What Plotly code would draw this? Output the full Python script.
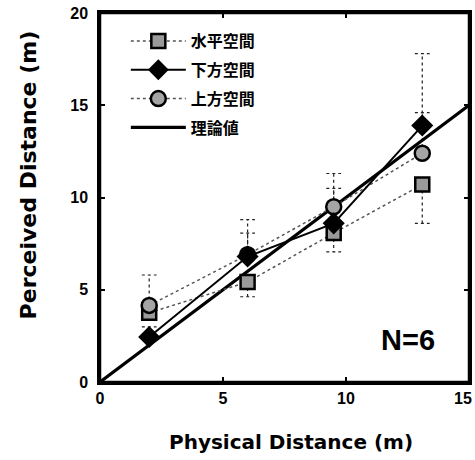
import plotly.graph_objects as go

# ---- data ----
x_phys = [2, 6, 9.5, 13.1]
names = ["水平空間", "下方空間", "上方空間", "理論値"]
horiz_y = [3.75, 5.42, 8.07, 10.7]
horiz_err_minus = [0.3, 0.8, 1.02, 2.1]
lower_y = [2.44, 6.8, 8.6, 13.9]
lower_err_plus = [0.55, 2.0, 1.9, 3.9]
upper_y = [4.15, 6.9, 9.5, 12.4]
upper_err_plus = [1.65, 1.17, 1.8, 2.2]
theory_x = [0, 15]
theory_y = [0, 15]
x_tickvals = [0, 5, 10, 15]
x_ticktext = ["0", "5", "10", ""]   # last label drawn as annotation (kept inside page)
x_last_label = "15"
y_tickvals = [0, 5, 10, 15, 20]

CAP = 0.3
FONT = "Liberation Sans, Arial, sans-serif"
TFONT = "DejaVu Sans, sans-serif"
CJK = "Noto Sans CJK JP"


def err_segments(xs, ys, errs, sign):
    ex, ey = [], []
    for x, y, e in zip(xs, ys, errs):
        yt = y + sign * e
        ex += [x, x, None, x - CAP, x + CAP, None]
        ey += [y, yt, None, yt, yt, None]
    return ex, ey


fig = go.Figure()

# error bars (dotted)
for ys, errs, sign in [(horiz_y, horiz_err_minus, -1),
                       (lower_y, lower_err_plus, 1),
                       (upper_y, upper_err_plus, 1)]:
    ex, ey = err_segments(x_phys, ys, errs, sign)
    fig.add_trace(go.Scatter(x=ex, y=ey, mode="lines", showlegend=False,
                             line=dict(color="#222", width=1.2, dash="dot"),
                             hoverinfo="skip"))

# theory line
fig.add_trace(go.Scatter(x=theory_x, y=theory_y, mode="lines", name=names[3],
                         legendgroup="d", legendrank=4,
                         line=dict(color="black", width=3.2)))

fig.add_trace(go.Scatter(x=x_phys, y=horiz_y, mode="lines+markers", name=names[0],
                         legendgroup="a", legendrank=1,
                         line=dict(color="#555", width=1.5, dash="dot"),
                         marker=dict(symbol="square", size=14, color="#9a9a9a",
                                     line=dict(color="black", width=2.5))))
fig.add_trace(go.Scatter(x=x_phys, y=upper_y, mode="lines+markers", name=names[2],
                         legendgroup="c", legendrank=3,
                         line=dict(color="#555", width=1.5, dash="dot"),
                         marker=dict(symbol="circle", size=15, color="#a5a5a5",
                                     line=dict(color="black", width=2.5))))
fig.add_trace(go.Scatter(x=x_phys, y=lower_y, mode="lines+markers", name=names[1],
                         legendgroup="b", legendrank=2,
                         line=dict(color="black", width=2),
                         marker=dict(symbol="diamond", size=17, color="black")))

fig.add_annotation(x=12.5, y=2.3, text="<b>N=6</b>", showarrow=False,
                   font=dict(family=FONT, size=29, color="black"))

# last x tick label, nudged left so it stays inside the page
fig.add_annotation(x=x_tickvals[-1], y=0, xref="x", yref="y", text=x_last_label,
                   showarrow=False, xanchor="center", yanchor="top",
                   xshift=-6, yshift=-6,
                   font=dict(family=FONT, size=16, color="black", weight="bold"))

# axis titles
fig.add_annotation(x=0.518, y=-0.163, xref="paper", yref="paper",
                   text="Physical Distance (m)", showarrow=False,
                   xanchor="center", yanchor="middle",
                   font=dict(family=TFONT, size=20, color="black", weight="bold"))
fig.add_annotation(x=-0.195, y=0.56, xref="paper", yref="paper",
                   text="Perceived Distance (m)", showarrow=False, textangle=-90,
                   xanchor="center", yanchor="middle",
                   font=dict(family=TFONT, size=22, color="black", weight="bold"))

# frame around the plot area
fig.add_shape(type="rect", xref="paper", yref="paper", x0=0, y0=0, x1=1, y1=1,
              line=dict(color="black", width=2.5), layer="above")

axis_common = dict(showline=True, linecolor="black", linewidth=2.5, mirror="ticks",
                   ticks="inside", ticklen=5, tickwidth=1.5, tickcolor="black",
                   showgrid=False, zeroline=False, automargin=False,
                   ticklabeloverflow="allow",
                   tickfont=dict(family=FONT, size=16, color="black", weight="bold"))

fig.update_xaxes(range=[0, 15], tickvals=x_tickvals, ticktext=x_ticktext, **axis_common)
fig.update_yaxes(range=[0, 20], tickvals=y_tickvals, ticklabelstandoff=6, **axis_common)

fig.update_layout(
    width=475, height=460,
    margin=dict(l=100, r=6, t=13, b=78),
    plot_bgcolor="white", paper_bgcolor="white",
    legend=dict(x=0.07, y=0.97, xanchor="left", yanchor="top",
                bgcolor="rgba(0,0,0,0)", traceorder="grouped", tracegroupgap=5,
                itemwidth=55,
                font=dict(family=CJK, size=16, color="black", weight="bold")),
)

fig.write_html("out.html", config={"displayModeBar": False},
               post_script="document.body.style.margin='0';"
                           "document.documentElement.style.overflow='hidden';")
